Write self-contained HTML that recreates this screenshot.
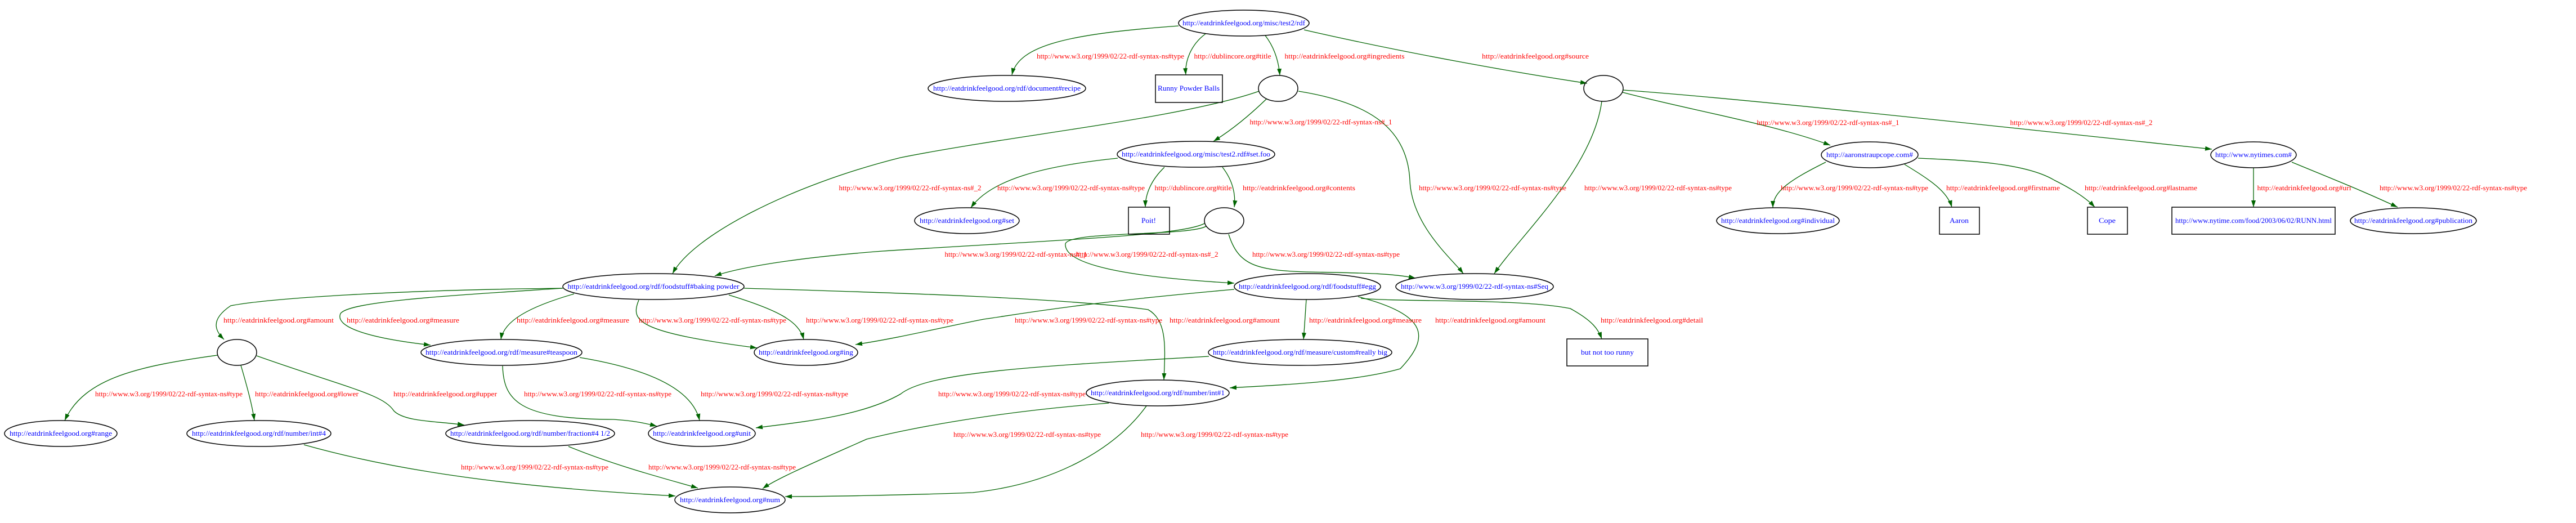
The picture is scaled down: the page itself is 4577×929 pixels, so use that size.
<!DOCTYPE html>
<html><head><meta charset="utf-8"><style>
html,body{margin:0;padding:0;background:#fff;}
svg{display:block;}
.l{font-family:"Liberation Serif",serif;font-size:12.5px;fill:#ff0000;text-anchor:middle;}
.n{font-family:"Liberation Serif",serif;font-size:12.5px;fill:#0000ff;text-anchor:middle;}
.e{fill:none;stroke:#006400;stroke-width:1.3;marker-end:url(#a);}
.s{fill:none;stroke:#000;stroke-width:1.5;}
</style></head><body>
<svg width="4577" height="929" viewBox="0 0 4577 929" xmlns="http://www.w3.org/2000/svg">
<defs><marker id="a" viewBox="0 0 12 8" refX="12" refY="4" markerWidth="12" markerHeight="8" markerUnits="userSpaceOnUse" orient="auto"><path d="M0,0 L12,4 L0,8 z" fill="#006400"/></marker></defs>

<!-- edges -->
<path class="e" d="M2094,46 C1900,60 1810,80 1798,133"/>
<path class="e" d="M2142,60 C2115,80 2105,110 2107,133"/>
<path class="e" d="M2248,63 C2265,85 2272,110 2274,134"/>
<path class="e" d="M2317,53 C2500,95 2700,130 2820,148"/>
<path class="e" d="M2250,176 C2220,205 2190,230 2156,251"/>
<path class="e" d="M2237,162 C2100,210 1800,240 1600,280 C1400,330 1230,420 1195,486"/>
<path class="e" d="M2307,162 C2420,180 2500,220 2505,320 C2508,400 2580,460 2600,486"/>
<path class="e" d="M2846,180 C2830,300 2700,420 2655,486"/>
<path class="e" d="M1986,281 C1850,295 1760,320 1725,369"/>
<path class="e" d="M2069,297 C2045,320 2035,345 2035,368"/>
<path class="e" d="M2172,297 C2190,320 2196,345 2193,368"/>
<path class="e" d="M2140,397 C2100,418 1900,425 1568,446 C1450,455 1330,470 1270,490"/>
<path class="e" d="M2143,402 C2110,420 1900,410 1893,433 C1890,470 2000,492 2193,503"/>
<path class="e" d="M2183,416 C2200,470 2230,480 2320,483 C2420,485 2470,485 2515,494"/>
<path class="e" d="M1000,512 C700,515 480,530 410,543 C370,570 385,590 398,603"/>
<path class="e" d="M1000,512 C800,525 620,535 605,557 C595,580 650,600 765,613"/>
<path class="e" d="M1020,522 C940,545 895,570 890,603"/>
<path class="e" d="M1135,533 C1120,570 1130,590 1345,618"/>
<path class="e" d="M1295,524 C1380,550 1420,570 1428,603"/>
<path class="e" d="M1322,512 C1600,520 1900,530 2040,550 C2075,570 2070,620 2068,675"/>
<path class="e" d="M2193,514 C1900,540 1800,560 1748,567 C1680,580 1600,600 1520,612"/>
<path class="e" d="M2321,532 C2319,560 2318,580 2316,603"/>
<path class="e" d="M2413,527 C2540,560 2540,600 2488,655 C2400,680 2250,685 2185,689"/>
<path class="e" d="M2418,530 C2500,537 2700,530 2790,548 C2830,570 2840,585 2846,602"/>
<path class="e" d="M2148,633 C1850,650 1650,660 1600,700 C1530,740 1420,750 1343,760"/>
<path class="e" d="M893,650 C895,710 920,745 1090,745 C1120,747 1140,750 1167,757"/>
<path class="e" d="M1030,635 C1150,655 1230,690 1243,747"/>
<path class="e" d="M386,631 C250,650 150,670 115,747"/>
<path class="e" d="M428,649 C440,690 448,720 452,747"/>
<path class="e" d="M456,632 C620,690 680,700 700,730 C720,750 780,748 825,755"/>
<path class="e" d="M540,790 C700,835 900,865 1200,881"/>
<path class="e" d="M1010,793 C1100,830 1200,855 1240,867"/>
<path class="e" d="M1970,716 C1750,733 1600,765 1540,780 C1450,820 1380,850 1355,868"/>
<path class="e" d="M2037,721 C1980,800 1870,860 1728,875 C1600,880 1450,882 1395,882"/>
<path class="e" d="M2883,164 C3000,195 3150,220 3252,258"/>
<path class="e" d="M2884,160 C3100,175 3600,230 3930,265"/>
<path class="e" d="M3244,288 C3180,320 3150,340 3150,369"/>
<path class="e" d="M3384,292 C3430,320 3460,340 3468,368"/>
<path class="e" d="M3408,281 C3500,285 3600,290 3650,320 C3690,340 3710,355 3722,368"/>
<path class="e" d="M4004,298 L4004,368"/>
<path class="e" d="M4072,288 C4150,320 4200,340 4260,368"/>

<!-- nodes -->
<g class="s">
<ellipse cx="2210" cy="41" rx="116" ry="23"/>
<ellipse cx="1789" cy="157" rx="140" ry="23"/>
<rect x="2053" y="133" width="119" height="49"/>
<ellipse cx="2271" cy="157" rx="35" ry="23"/>
<ellipse cx="2849" cy="157" rx="35" ry="23"/>
<ellipse cx="2125" cy="274" rx="140" ry="23"/>
<ellipse cx="3322" cy="275" rx="86" ry="23"/>
<ellipse cx="4004" cy="275" rx="76" ry="23"/>
<ellipse cx="1718" cy="392" rx="93" ry="23"/>
<rect x="2005" y="368" width="73" height="48"/>
<ellipse cx="2175" cy="392" rx="35" ry="23"/>
<ellipse cx="3159" cy="392" rx="109" ry="23"/>
<rect x="3446" y="368" width="71" height="48"/>
<rect x="3709" y="368" width="71" height="48"/>
<rect x="3859" y="368" width="290" height="48"/>
<ellipse cx="4288" cy="392" rx="112" ry="23"/>
<ellipse cx="1161" cy="509" rx="161" ry="23"/>
<ellipse cx="2323" cy="509" rx="130" ry="23"/>
<ellipse cx="2620" cy="509" rx="140" ry="23"/>
<ellipse cx="421" cy="626" rx="35" ry="23"/>
<ellipse cx="891" cy="626" rx="143" ry="23"/>
<ellipse cx="1432" cy="626" rx="92" ry="23"/>
<ellipse cx="2310" cy="626" rx="163" ry="23"/>
<rect x="2784" y="602" width="144" height="48"/>
<ellipse cx="108" cy="770" rx="100" ry="23"/>
<ellipse cx="460" cy="770" rx="128" ry="23"/>
<ellipse cx="942" cy="770" rx="150" ry="23"/>
<ellipse cx="1247" cy="770" rx="95" ry="23"/>
<ellipse cx="2057" cy="698" rx="127" ry="23"/>
<ellipse cx="1297" cy="888" rx="98" ry="23"/>
</g>

<!-- node labels -->
<g>
<text class="n" x="2210" y="45" textLength="218" lengthAdjust="spacingAndGlyphs">http://eatdrinkfeelgood.org/misc/test2/rdf</text>
<text class="n" x="1789" y="161" textLength="262" lengthAdjust="spacingAndGlyphs">http://eatdrinkfeelgood.org/rdf/document#recipe</text>
<text class="n" x="2112" y="161" textLength="110" lengthAdjust="spacingAndGlyphs">Runny Powder Balls</text>
<text class="n" x="2125" y="278" textLength="264" lengthAdjust="spacingAndGlyphs">http://eatdrinkfeelgood.org/misc/test2.rdf#set.foo</text>
<text class="n" x="3322" y="279" textLength="154" lengthAdjust="spacingAndGlyphs">http://aaronstraupcope.com#</text>
<text class="n" x="4004" y="279" textLength="136" lengthAdjust="spacingAndGlyphs">http://www.nytimes.com#</text>
<text class="n" x="1718" y="396" textLength="168" lengthAdjust="spacingAndGlyphs">http://eatdrinkfeelgood.org#set</text>
<text class="n" x="2041" y="396" textLength="26" lengthAdjust="spacingAndGlyphs">Poit!</text>
<text class="n" x="3159" y="396" textLength="202" lengthAdjust="spacingAndGlyphs">http://eatdrinkfeelgood.org#individual</text>
<text class="n" x="3481" y="396" textLength="34" lengthAdjust="spacingAndGlyphs">Aaron</text>
<text class="n" x="3744" y="396" textLength="30" lengthAdjust="spacingAndGlyphs">Cope</text>
<text class="n" x="4004" y="396" textLength="278" lengthAdjust="spacingAndGlyphs">http://www.nytime.com/food/2003/06/02/RUNN.html</text>
<text class="n" x="4288" y="396" textLength="210" lengthAdjust="spacingAndGlyphs">http://eatdrinkfeelgood.org#publication</text>
<text class="n" x="1161" y="513" textLength="305" lengthAdjust="spacingAndGlyphs">http://eatdrinkfeelgood.org/rdf/foodstuff#baking powder</text>
<text class="n" x="2323" y="513" textLength="244" lengthAdjust="spacingAndGlyphs">http://eatdrinkfeelgood.org/rdf/foodstuff#egg</text>
<text class="n" x="2620" y="513" textLength="262" lengthAdjust="spacingAndGlyphs">http://www.w3.org/1999/02/22-rdf-syntax-ns#Seq</text>
<text class="n" x="891" y="630" textLength="270" lengthAdjust="spacingAndGlyphs">http://eatdrinkfeelgood.org/rdf/measure#teaspoon</text>
<text class="n" x="1432" y="630" textLength="168" lengthAdjust="spacingAndGlyphs">http://eatdrinkfeelgood.org#ing</text>
<text class="n" x="2310" y="630" textLength="310" lengthAdjust="spacingAndGlyphs">http://eatdrinkfeelgood.org/rdf/measure/custom#really big</text>
<text class="n" x="2856" y="630" textLength="94" lengthAdjust="spacingAndGlyphs">but not too runny</text>
<text class="n" x="108" y="774" textLength="182" lengthAdjust="spacingAndGlyphs">http://eatdrinkfeelgood.org#range</text>
<text class="n" x="460" y="774" textLength="238" lengthAdjust="spacingAndGlyphs">http://eatdrinkfeelgood.org/rdf/number/int#4</text>
<text class="n" x="942" y="774" textLength="284" lengthAdjust="spacingAndGlyphs">http://eatdrinkfeelgood.org/rdf/number/fraction#4 1/2</text>
<text class="n" x="1247" y="774" textLength="174" lengthAdjust="spacingAndGlyphs">http://eatdrinkfeelgood.org#unit</text>
<text class="n" x="2057" y="702" textLength="238" lengthAdjust="spacingAndGlyphs">http://eatdrinkfeelgood.org/rdf/number/int#1</text>
<text class="n" x="1297" y="892" textLength="178" lengthAdjust="spacingAndGlyphs">http://eatdrinkfeelgood.org#num</text>
</g>

<!-- edge labels -->
<g>
<text class="l" x="1973" y="104" textLength="262" lengthAdjust="spacingAndGlyphs">http://www.w3.org/1999/02/22-rdf-syntax-ns#type</text>
<text class="l" x="2190" y="104" textLength="137" lengthAdjust="spacingAndGlyphs">http://dublincore.org#title</text>
<text class="l" x="2389" y="104" textLength="213" lengthAdjust="spacingAndGlyphs">http://eatdrinkfeelgood.org#ingredients</text>
<text class="l" x="2728" y="104" textLength="190" lengthAdjust="spacingAndGlyphs">http://eatdrinkfeelgood.org#source</text>
<text class="l" x="2347" y="221" textLength="253" lengthAdjust="spacingAndGlyphs">http://www.w3.org/1999/02/22-rdf-syntax-ns#_1</text>
<text class="l" x="3248" y="222" textLength="253" lengthAdjust="spacingAndGlyphs">http://www.w3.org/1999/02/22-rdf-syntax-ns#_1</text>
<text class="l" x="3698" y="222" textLength="253" lengthAdjust="spacingAndGlyphs">http://www.w3.org/1999/02/22-rdf-syntax-ns#_2</text>
<text class="l" x="1617" y="338" textLength="253" lengthAdjust="spacingAndGlyphs">http://www.w3.org/1999/02/22-rdf-syntax-ns#_2</text>
<text class="l" x="1903" y="338" textLength="262" lengthAdjust="spacingAndGlyphs">http://www.w3.org/1999/02/22-rdf-syntax-ns#type</text>
<text class="l" x="2120" y="338" textLength="137" lengthAdjust="spacingAndGlyphs">http://dublincore.org#title</text>
<text class="l" x="2308" y="338" textLength="200" lengthAdjust="spacingAndGlyphs">http://eatdrinkfeelgood.org#contents</text>
<text class="l" x="2652" y="338" textLength="262" lengthAdjust="spacingAndGlyphs">http://www.w3.org/1999/02/22-rdf-syntax-ns#type</text>
<text class="l" x="2946" y="338" textLength="262" lengthAdjust="spacingAndGlyphs">http://www.w3.org/1999/02/22-rdf-syntax-ns#type</text>
<text class="l" x="3295" y="338" textLength="262" lengthAdjust="spacingAndGlyphs">http://www.w3.org/1999/02/22-rdf-syntax-ns#type</text>
<text class="l" x="3559" y="338" textLength="202" lengthAdjust="spacingAndGlyphs">http://eatdrinkfeelgood.org#firstname</text>
<text class="l" x="3804" y="338" textLength="200" lengthAdjust="spacingAndGlyphs">http://eatdrinkfeelgood.org#lastname</text>
<text class="l" x="4094" y="338" textLength="167" lengthAdjust="spacingAndGlyphs">http://eatdrinkfeelgood.org#uri</text>
<text class="l" x="4359" y="338" textLength="262" lengthAdjust="spacingAndGlyphs">http://www.w3.org/1999/02/22-rdf-syntax-ns#type</text>
<text class="l" x="1805" y="456" textLength="253" lengthAdjust="spacingAndGlyphs">http://www.w3.org/1999/02/22-rdf-syntax-ns#_1</text>
<text class="l" x="2038" y="456" textLength="253" lengthAdjust="spacingAndGlyphs">http://www.w3.org/1999/02/22-rdf-syntax-ns#_2</text>
<text class="l" x="2356" y="456" textLength="262" lengthAdjust="spacingAndGlyphs">http://www.w3.org/1999/02/22-rdf-syntax-ns#type</text>
<text class="l" x="495" y="573" textLength="196" lengthAdjust="spacingAndGlyphs">http://eatdrinkfeelgood.org#amount</text>
<text class="l" x="716" y="573" textLength="200" lengthAdjust="spacingAndGlyphs">http://eatdrinkfeelgood.org#measure</text>
<text class="l" x="1018" y="573" textLength="200" lengthAdjust="spacingAndGlyphs">http://eatdrinkfeelgood.org#measure</text>
<text class="l" x="1266" y="573" textLength="262" lengthAdjust="spacingAndGlyphs">http://www.w3.org/1999/02/22-rdf-syntax-ns#type</text>
<text class="l" x="1563" y="573" textLength="262" lengthAdjust="spacingAndGlyphs">http://www.w3.org/1999/02/22-rdf-syntax-ns#type</text>
<text class="l" x="1934" y="573" textLength="262" lengthAdjust="spacingAndGlyphs">http://www.w3.org/1999/02/22-rdf-syntax-ns#type</text>
<text class="l" x="2176" y="573" textLength="196" lengthAdjust="spacingAndGlyphs">http://eatdrinkfeelgood.org#amount</text>
<text class="l" x="2426" y="573" textLength="200" lengthAdjust="spacingAndGlyphs">http://eatdrinkfeelgood.org#measure</text>
<text class="l" x="2648" y="573" textLength="196" lengthAdjust="spacingAndGlyphs">http://eatdrinkfeelgood.org#amount</text>
<text class="l" x="2935" y="573" textLength="182" lengthAdjust="spacingAndGlyphs">http://eatdrinkfeelgood.org#detail</text>
<text class="l" x="300" y="704" textLength="262" lengthAdjust="spacingAndGlyphs">http://www.w3.org/1999/02/22-rdf-syntax-ns#type</text>
<text class="l" x="545" y="704" textLength="184" lengthAdjust="spacingAndGlyphs">http://eatdrinkfeelgood.org#lower</text>
<text class="l" x="791" y="704" textLength="184" lengthAdjust="spacingAndGlyphs">http://eatdrinkfeelgood.org#upper</text>
<text class="l" x="1062" y="704" textLength="262" lengthAdjust="spacingAndGlyphs">http://www.w3.org/1999/02/22-rdf-syntax-ns#type</text>
<text class="l" x="1376" y="704" textLength="262" lengthAdjust="spacingAndGlyphs">http://www.w3.org/1999/02/22-rdf-syntax-ns#type</text>
<text class="l" x="1798" y="704" textLength="262" lengthAdjust="spacingAndGlyphs">http://www.w3.org/1999/02/22-rdf-syntax-ns#type</text>
<text class="l" x="1825" y="776" textLength="262" lengthAdjust="spacingAndGlyphs">http://www.w3.org/1999/02/22-rdf-syntax-ns#type</text>
<text class="l" x="2158" y="776" textLength="262" lengthAdjust="spacingAndGlyphs">http://www.w3.org/1999/02/22-rdf-syntax-ns#type</text>
<text class="l" x="950" y="834" textLength="262" lengthAdjust="spacingAndGlyphs">http://www.w3.org/1999/02/22-rdf-syntax-ns#type</text>
<text class="l" x="1283" y="834" textLength="262" lengthAdjust="spacingAndGlyphs">http://www.w3.org/1999/02/22-rdf-syntax-ns#type</text>
</g>
</svg>
</body></html>
